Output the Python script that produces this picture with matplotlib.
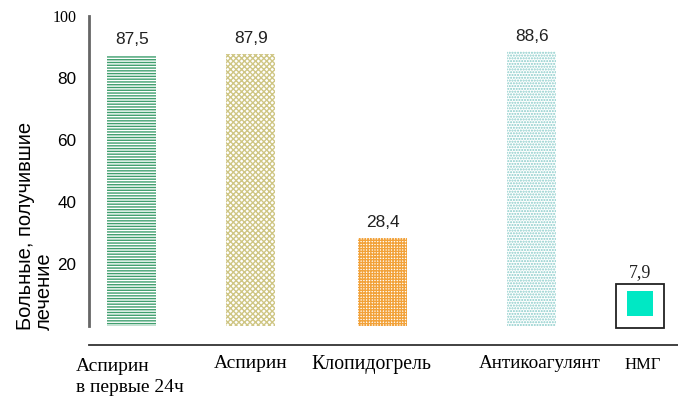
import matplotlib.pyplot as plt
import matplotlib as mpl

# data
categories = ['Аспирин\nв первые 24ч', 'Аспирин', 'Клопидогрель', 'Антикоагулянт', 'НМГ']
values = [87.5, 87.9, 28.4, 88.6, 7.9]
value_labels = ['87,5', '87,9', '28,4', '88,6', '7,9']
yticks = [20, 40, 60, 80, 100]

# layout
xpos = [0, 1.0, 2.11, 3.36, 4.27]
width = 0.41
hatch_colors = ['#3f9f6e', '#cfc684', '#f2a23a', '#86cbc8']
hatches = ['------', 'xxxxxx', '++++++', '......']

mpl.rcParams['hatch.linewidth'] = 1.0

fig = plt.figure(figsize=(6.78, 3.96), dpi=100)
ax = fig.add_axes([0.131, 0.129, 0.869, 0.846])
ax.set_xlim(-0.361, 4.59)
ax.set_ylim(-6.13, 102)

for i in range(4):
    ax.bar(xpos[i], values[i], width=width, color='white', edgecolor=hatch_colors[i],
           hatch=hatches[i], linewidth=0)
    ax.text(xpos[i], values[i] + 2.5, value_labels[i], ha='center', va='bottom',
            fontsize=12.5, family='Liberation Sans', color='#222222')

# НМГ: boxed marker
ax.bar(xpos[4], values[4] + 6.2, width=width, bottom=-0.6, color='white',
       edgecolor='#222222', linewidth=1.3)
ax.bar(xpos[4], values[4], width=width * 0.55, bottom=3.3, color='#00e8c4', linewidth=0)
ax.text(xpos[4], values[4] + 6.6, value_labels[4], ha='center', va='bottom',
        fontsize=13, family='Liberation Serif', color='#222222')

# axes lines
for s in ['top', 'right', 'bottom']:
    ax.spines[s].set_visible(False)
ax.spines['left'].set_bounds(0, 100)
ax.spines['left'].set_color('#666666')
ax.spines['left'].set_linewidth(2)
ax.axhline(-6.13, color='#333333', linewidth=1.3, clip_on=False)

ax.set_yticks(yticks)
ax.set_yticklabels([str(t) for t in yticks], fontsize=12.3, family='Liberation Sans')
ax.get_yticklabels()[-1].set_family('Liberation Serif')
ax.get_yticklabels()[-1].set_fontsize(11.5)
ax.tick_params(axis='y', length=0, pad=9)
ax.set_xticks([])

label_x = [-0.47, 0.998, 2.015, 3.425, 4.29]
label_ha = ['left', 'center', 'center', 'center', 'center']
label_y = [-10.5, -9.3, -9.3, -9.3, -10.0]
label_size = [14, 14, 14.2, 13.8, 12]
for i, c in enumerate(categories):
    ax.text(label_x[i], label_y[i], c, ha=label_ha[i], va='top', fontsize=label_size[i],
            family='Liberation Serif', linespacing=1.3, clip_on=False)

fig.text(0.051, 0.43, 'Больные, получившие\nлечение', rotation=90, ha='center', va='center',
         multialignment='left', fontsize=14.5, family='Liberation Sans', linespacing=1.0)

fig.savefig('out.png', dpi=100)
